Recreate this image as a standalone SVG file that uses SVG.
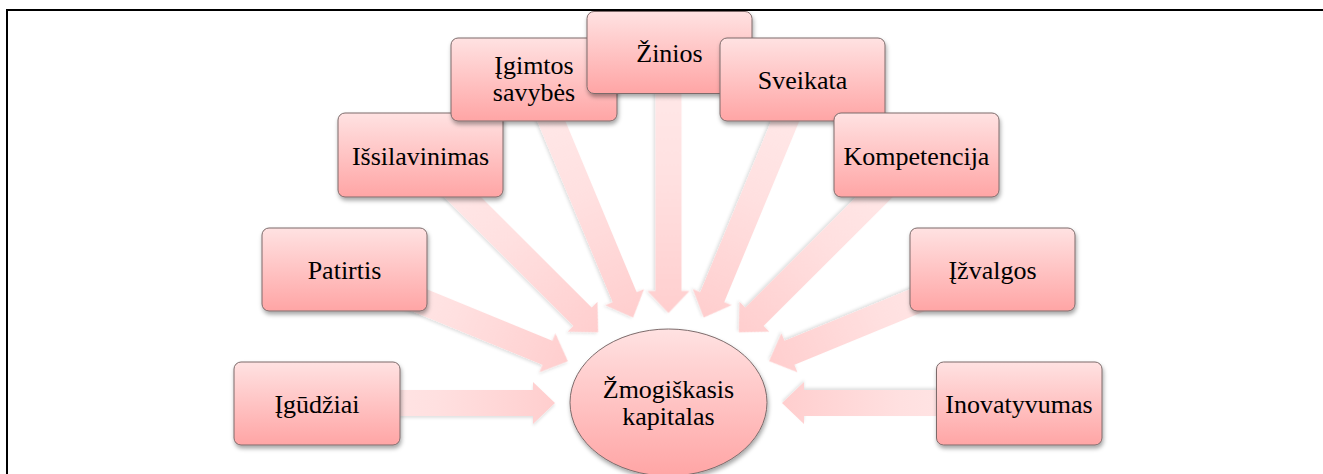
<svg xmlns="http://www.w3.org/2000/svg" width="1323" height="474" viewBox="0 0 1323 474">
  <defs>
    <linearGradient id="boxGrad" x1="0" y1="0" x2="0" y2="1">
      <stop offset="0" stop-color="#FFE2E2"/>
      <stop offset="1" stop-color="#FFA5A5"/>
    </linearGradient>
    <linearGradient id="arrowGrad" x1="0" y1="0" x2="1" y2="0">
      <stop offset="0" stop-color="#FFEAEA"/>
      <stop offset="0.5" stop-color="#FFE0E0"/>
      <stop offset="1" stop-color="#FFCECE"/>
    </linearGradient>
    <filter id="shadow" x="-20%" y="-20%" width="140%" height="150%">
      <feDropShadow dx="1" dy="3" stdDeviation="2" flood-color="#000" flood-opacity="0.35"/>
    </filter>
    <filter id="ashadow" x="-10%" y="-30%" width="120%" height="160%">
      <feDropShadow dx="0" dy="2" stdDeviation="1.5" flood-color="#000" flood-opacity="0.12"/>
    </filter>
  </defs>
  <style>
    .box { fill: url(#boxGrad); stroke: #7d6b6b; stroke-width: 1; filter: url(#shadow); }
    .arrow { fill: url(#arrowGrad); stroke: none; filter: url(#ashadow); }
    .lbl { font-family: "Liberation Serif", "Times New Roman", "DejaVu Serif", serif; font-size: 26px; fill: #000; text-anchor: middle; }
  </style>
  <rect width="1323" height="474" fill="#fff"/>
  <path d="M7,474 V10 H1323" fill="none" stroke="#000" stroke-width="2"/>

  <g id="connectors">
    <polygon class="arrow" transform="translate(317,403) rotate(0)" points="0,-13 216,-13 216,-21 238,0 216,21 216,13 0,13"/>
    <polygon class="arrow" transform="translate(344.5,269.5) rotate(22.32)" points="0,-13 219.4,-13 219.4,-21 241.4,0 219.4,21 219.4,13 0,13"/>
    <polygon class="arrow" transform="translate(420.5,155) rotate(44.94)" points="0,-13 229,-13 229,-21 251,0 229,21 229,13 0,13"/>
    <polygon class="arrow" transform="translate(534,79.5) rotate(67.39)" points="0,-13 235.8,-13 235.8,-21 257.8,0 235.8,21 235.8,13 0,13"/>
    <polygon class="arrow" transform="translate(668.5,52.5) rotate(90)" points="0,-13 238.5,-13 238.5,-21 260.5,0 238.5,21 238.5,13 0,13"/>
    <polygon class="arrow" transform="translate(802.5,79.5) rotate(112.53)" points="0,-13 235.6,-13 235.6,-21 257.6,0 235.6,21 235.6,13 0,13"/>
    <polygon class="arrow" transform="translate(916.5,155) rotate(135.06)" points="0,-13 229,-13 229,-21 251,0 229,21 229,13 0,13"/>
    <polygon class="arrow" transform="translate(992,269.5) rotate(157.65)" points="0,-13 219,-13 219,-21 241,0 219,21 219,13 0,13"/>
    <polygon class="arrow" transform="translate(1019,403) rotate(180)" points="0,-13 215,-13 215,-21 237,0 215,21 215,13 0,13"/>
  </g>

  <g id="node-igudziai">
    <rect class="box" x="234" y="362" width="166" height="83" rx="7"/>
    <text class="lbl" x="317" y="412.5">Įgūdžiai</text>
  </g>
  <g id="node-patirtis">
    <rect class="box" x="262" y="228" width="165" height="83" rx="7"/>
    <text class="lbl" x="344.5" y="278.5">Patirtis</text>
  </g>
  <g id="node-issilavinimas">
    <rect class="box" x="338" y="113" width="165" height="84" rx="7"/>
    <text class="lbl" x="420.5" y="164.5">Išsilavinimas</text>
  </g>
  <g id="node-igimtos">
    <rect class="box" x="451" y="38" width="166" height="83" rx="7"/>
    <text class="lbl" x="534" y="74">Įgimtos</text>
    <text class="lbl" x="534" y="101">savybės</text>
  </g>
  <g id="node-zinios">
    <rect class="box" x="587" y="11.5" width="165" height="82" rx="7"/>
    <text class="lbl" x="669.5" y="61.5">Žinios</text>
  </g>
  <g id="node-sveikata">
    <rect class="box" x="720" y="38" width="165" height="83" rx="7"/>
    <text class="lbl" x="802.5" y="88.5">Sveikata</text>
  </g>
  <g id="node-kompetencija">
    <rect class="box" x="834" y="113" width="165" height="84" rx="7"/>
    <text class="lbl" x="916.5" y="164.5">Kompetencija</text>
  </g>
  <g id="node-izvalgos">
    <rect class="box" x="910" y="228" width="165" height="83" rx="7"/>
    <text class="lbl" x="992.5" y="278.5">Įžvalgos</text>
  </g>
  <g id="node-inovatyvumas">
    <rect class="box" x="936.5" y="362" width="165.5" height="83" rx="7"/>
    <text class="lbl" x="1019" y="412.5">Inovatyvumas</text>
  </g>
  <g id="node-center">
    <ellipse class="box" cx="668.5" cy="402.5" rx="98.5" ry="73.5"/>
    <text class="lbl" x="668.5" y="398">Žmogiškasis</text>
    <text class="lbl" x="668.5" y="425">kapitalas</text>
  </g>
</svg>
